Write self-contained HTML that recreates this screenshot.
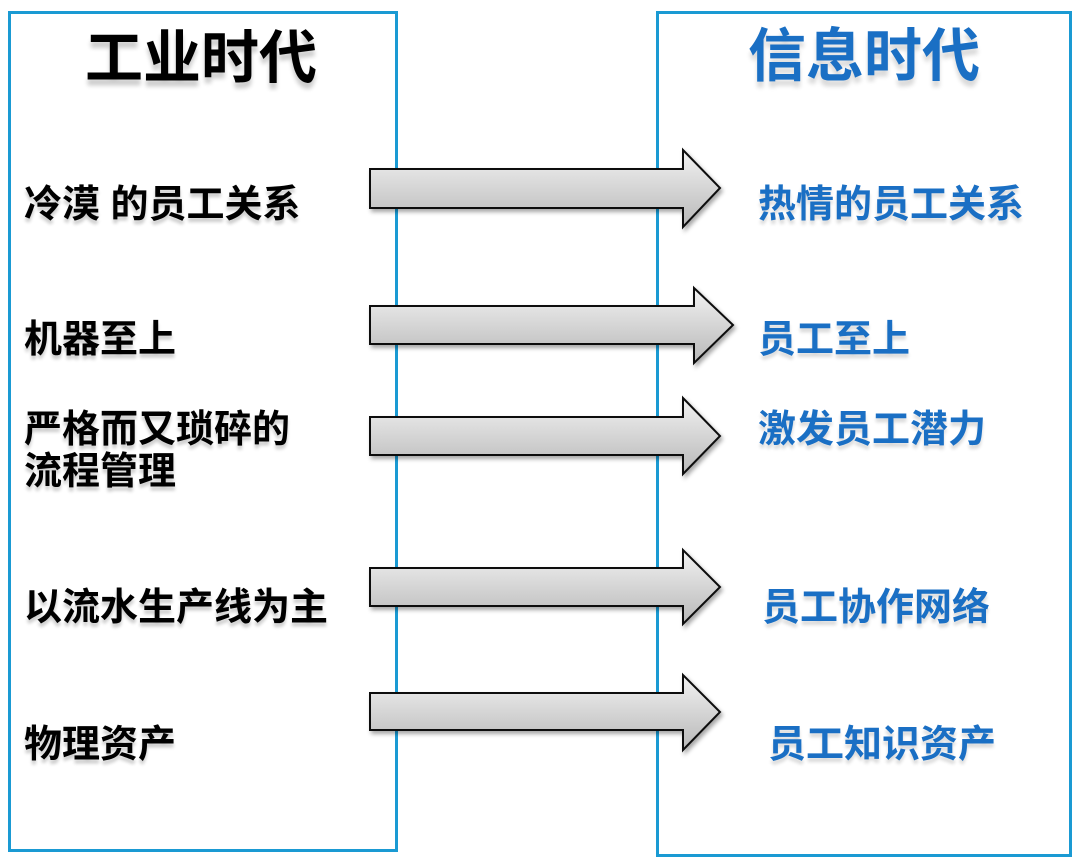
<!DOCTYPE html>
<html><head><meta charset="utf-8"><style>
body{margin:0;width:1073px;height:857px;background:#fff;position:relative;overflow:hidden;font-family:"Liberation Sans","Noto Sans CJK SC",sans-serif}
.box{position:absolute;border:3px solid #1a9ad3;box-sizing:border-box}
.t{position:absolute;white-space:nowrap;line-height:1;font-weight:bold}
.l{font-size:38px;color:#000;text-shadow:0 4px 3px rgba(0,0,0,.2)}
.r{font-size:38px;color:#1a6fc4;text-shadow:0 4px 3px rgba(0,0,0,.15)}
svg{position:absolute;left:0;top:0}
</style></head><body>
<div class="box" style="left:8px;top:11px;width:390px;height:841px"></div>
<div class="box" style="left:656px;top:11px;width:416px;height:846px"></div>
<svg width="1073" height="857">
<defs><linearGradient id="g" x1="0" y1="0" x2="0" y2="1"><stop offset="0" stop-color="#f2f2f2"/><stop offset="1" stop-color="#b8b8b8"/></linearGradient>
<filter id="s"><feDropShadow dx="2" dy="3" stdDeviation="2" flood-opacity=".35"/></filter></defs>
<g fill="url(#g)" stroke="#111" stroke-width="2" filter="url(#s)">
<polygon points="370,169 683,169 683,150 720,188 683,227 683,208 370,208"/>
<polygon points="370,306 694,306 694,288 733,325 694,363 694,344 370,344"/>
<polygon points="370,417 683,417 683,398 720,436 683,474 683,455 370,455"/>
<polygon points="370,568 683,568 683,550 720,587 683,624 683,606 370,606"/>
<polygon points="370,693 683,693 683,675 720,712 683,750 683,730 370,730"/>
</g></svg>
<div class="t" style="left:85px;top:30px;font-size:58px;color:#000;text-shadow:0 6px 4px rgba(0,0,0,.2)">工业时代</div>
<div class="t" style="left:748px;top:28px;font-size:58px;color:#1a6fc4;text-shadow:0 6px 4px rgba(0,0,0,.15)">信息时代</div>
<div class="t l" style="left:24px;top:186px">冷漠 的员工关系</div>
<div class="t l" style="left:24px;top:321px">机器至上</div>
<div class="t l" style="left:24px;top:411px">严格而又琐碎的</div>
<div class="t l" style="left:24px;top:453px">流程管理</div>
<div class="t l" style="left:24px;top:589px">以流水生产线为主</div>
<div class="t l" style="left:24px;top:726px">物理资产</div>
<div class="t r" style="left:758px;top:186px">热情的员工关系</div>
<div class="t r" style="left:758px;top:321px">员工至上</div>
<div class="t r" style="left:758px;top:411px">激发员工潜力</div>
<div class="t r" style="left:762px;top:589px">员工协作网络</div>
<div class="t r" style="left:768px;top:726px">员工知识资产</div>
</body></html>
